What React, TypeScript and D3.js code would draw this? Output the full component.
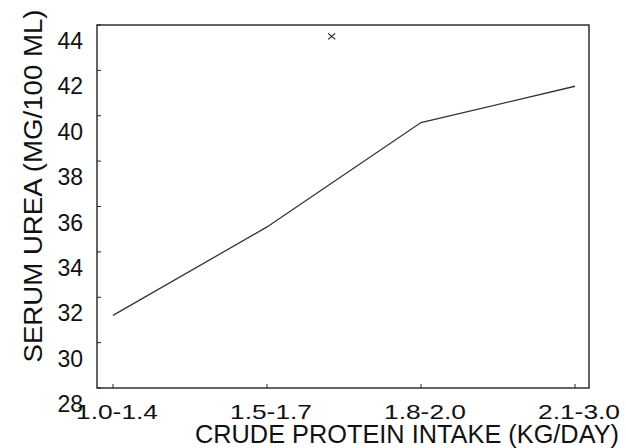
import React, { useEffect, useRef } from "react";
import * as d3 from "d3";

const categories = ["1.0-1.4", "1.5-1.7", "1.8-2.0", "2.1-3.0"];
const serumUrea = [31.2, 35.1, 39.7, 41.3];
const yTicks = [28, 30, 32, 34, 36, 38, 40, 42, 44];
// single stray point marked with an x
const outlierPos = [1.42];
const outlierValue = [43.5];

const width = 626;
const height = 448;
const frame = { left: 97, top: 25, right: 589, bottom: 388 };
const font = "'Liberation Sans', Arial, Helvetica, sans-serif";

const App = () => {
  const ref = useRef<SVGSVGElement>(null);

  useEffect(() => {
    const svg = d3.select(ref.current);
    svg.selectAll("*").remove();

    const x = d3.scaleLinear().domain([0, categories.length - 1]).range([113, 575]);
    const y = d3.scaleLinear().domain([28, 44]).range([frame.bottom, frame.top]);

    // frame
    svg
      .append("rect")
      .attr("x", frame.left)
      .attr("y", frame.top)
      .attr("width", frame.right - frame.left)
      .attr("height", frame.bottom - frame.top)
      .attr("fill", "none")
      .attr("stroke", "#222")
      .attr("stroke-width", 1.4);

    // y ticks (inward) + labels
    const yg = svg.append("g");
    yg.selectAll("line")
      .data(yTicks)
      .join("line")
      .attr("x1", frame.left)
      .attr("x2", frame.left + 4)
      .attr("y1", (d) => y(d))
      .attr("y2", (d) => y(d))
      .attr("stroke", "#222");
    yg.selectAll("text")
      .data(yTicks)
      .join("text")
      .attr("x", 83)
      .attr("y", (d) => y(d) + 24)
      .attr("text-anchor", "end")
      .attr("font-family", font)
      .attr("font-size", 23)
      .attr("fill", "#111")
      .text((d) => d);

    // x ticks (inward) + labels
    const xg = svg.append("g");
    xg.selectAll("line")
      .data(categories)
      .join("line")
      .attr("x1", (_, i) => x(i))
      .attr("x2", (_, i) => x(i))
      .attr("y1", frame.bottom)
      .attr("y2", frame.bottom - 4)
      .attr("stroke", "#222");
    xg.selectAll("text")
      .data(categories)
      .join("text")
      .attr("x", (_, i) => x(i) + 4)
      .attr("y", 419)
      .attr("text-anchor", "middle")
      .attr("font-family", font)
      .attr("font-size", 21)
      .attr("textLength", 82)
      .attr("lengthAdjust", "spacingAndGlyphs")
      .attr("fill", "#111")
      .text((d) => d);

    // axis titles
    svg
      .append("text")
      .attr("x", 407)
      .attr("y", 443)
      .attr("text-anchor", "middle")
      .attr("font-family", font)
      .attr("font-size", 25)
      .attr("textLength", 424)
      .attr("lengthAdjust", "spacingAndGlyphs")
      .attr("fill", "#111")
      .text("CRUDE PROTEIN INTAKE (KG/DAY)");

    svg
      .append("text")
      .attr("transform", "translate(42,186) rotate(-90)")
      .attr("text-anchor", "middle")
      .attr("font-family", font)
      .attr("font-size", 26)
      .attr("textLength", 353)
      .attr("lengthAdjust", "spacingAndGlyphs")
      .attr("fill", "#111")
      .text("SERUM UREA (MG/100 ML)");

    // the line
    const line = d3
      .line<number>()
      .x((_, i) => x(i))
      .y((d) => y(d));
    svg
      .append("path")
      .datum(serumUrea)
      .attr("d", line)
      .attr("fill", "none")
      .attr("stroke", "#333")
      .attr("stroke-width", 1.3);

    // x marker
    const pts = outlierPos.map((p, i) => [x(p), y(outlierValue[i])]);
    svg
      .append("g")
      .selectAll("path")
      .data(pts)
      .join("path")
      .attr("d", ([cx, cy]) => `M${cx - 3.5},${cy - 3}L${cx + 3.5},${cy + 3}M${cx - 3.5},${cy + 3}L${cx + 3.5},${cy - 3}`)
      .attr("stroke", "#222")
      .attr("stroke-width", 1.2);
  }, []);

  return (
    <svg
      ref={ref}
      width={width}
      height={height}
      style={{ position: "absolute", left: 0, top: 0, background: "#fff" }}
    />
  );
};

export default App;
